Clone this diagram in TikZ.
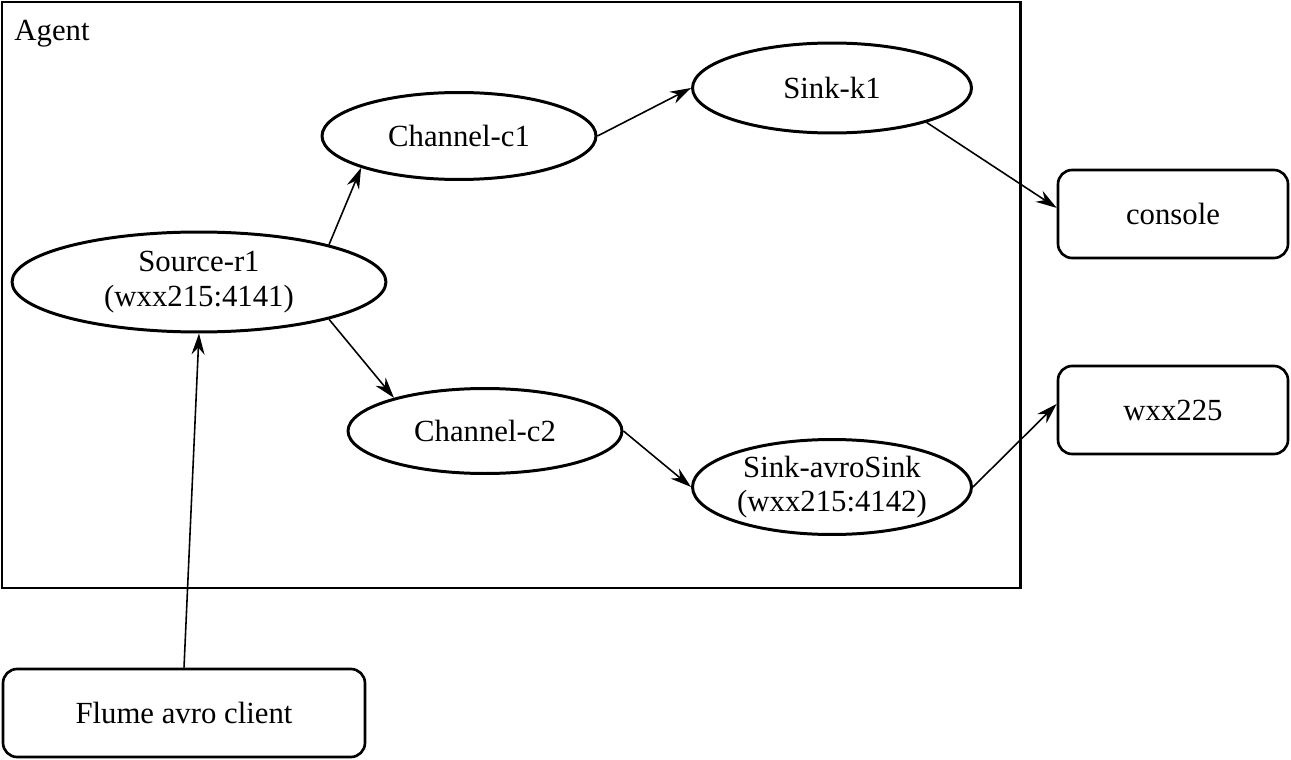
\documentclass[tikz,border=0pt]{standalone}
\usepackage{fontspec}
\setmainfont{Liberation Serif}
\usetikzlibrary{arrows.meta}
\usetikzlibrary{shapes.geometric}
\usetikzlibrary{positioning}

\tikzset{
  unit/.style={x=0.02cm, y=-0.02cm},
  stage/.style={ellipse, draw, line width=1.7pt, inner sep=0pt, align=center,
    font=\fontsize{17.5}{19.5}\selectfont},
  endpoint/.style={rectangle, draw, line width=1.5pt, rounded corners=8pt,
    minimum width=4.6cm, minimum height=1.76cm, inner sep=0pt,
    font=\fontsize{17.5}{19}\selectfont},
  flow/.style={-{Stealth[length=0.42cm, width=0.26cm]}, line width=0.9pt},
}

\begin{document}
\begin{tikzpicture}[unit]
    \useasboundingbox (0,0) rectangle (1291,760);

    % Agent frame
    \draw[line width=1.7pt] (2,2) rectangle (1020,588);
    \node[font=\fontsize{17.5}{19}\selectfont] (agentlabel) at (52,34) {Agent};

    % Source, channels and sinks
    \node[stage, minimum width=7.48cm, minimum height=2cm] (src) at (199,282) {Source-r1\\(wxx215:4141)};
    \node[stage, minimum width=5.48cm, minimum height=1.74cm] (chone) at (459,136) {Channel-c1};
    \node[stage, minimum width=5.48cm, minimum height=1.7cm] (chtwo) at (485,431) {Channel-c2};
    \node[stage, minimum width=5.58cm, minimum height=1.8cm] (sinkone) at (832,88) {Sink-k1};
    \node[stage, minimum width=5.58cm, minimum height=1.9cm] (sinktwo) at (832,487) {Sink-avroSink\\(wxx215:4142)};

    % Outside boxes
    \node[endpoint] (console) at (1173,214) {console};
    \node[endpoint] (remote) at (1173,410) {wxx225};
    \node[endpoint, minimum width=7.24cm] (client) at (184,713) {Flume avro client};

    % Connections
    \draw[flow] (src.16) -- (chone.198);
    \draw[flow] (src.-16) -- (chtwo.160);
    \draw[flow] (chone.east) -- (sinkone.west);
    \draw[flow] (chtwo.east) -- (sinktwo.west);
    \draw[flow] (sinkone.-20) -- (console.177);
    \draw[flow] (sinktwo.east) -- (remote.177);
    \draw[flow] (client.north) -- (src.south);
  \end{tikzpicture}
\end{document}
